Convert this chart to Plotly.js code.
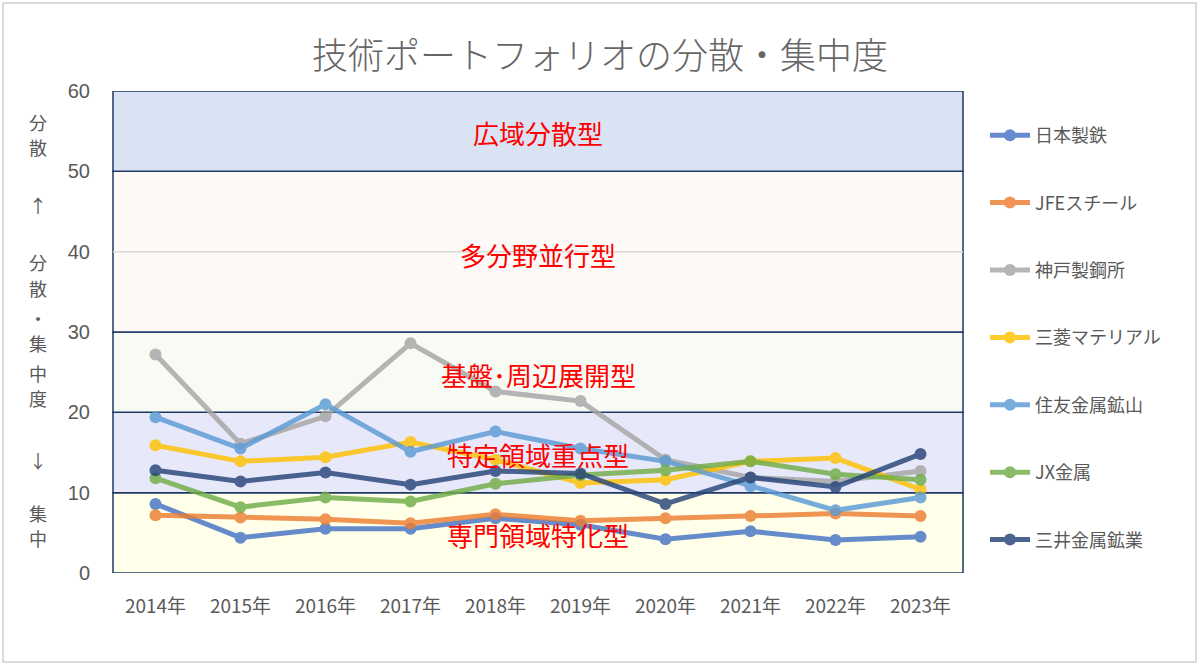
<!DOCTYPE html>
<html><head><meta charset="utf-8">
<script src="https://cdn.plot.ly/plotly-3.0.1.min.js"></script>
<style>html,body{margin:0;padding:0;background:#fff;}#c{width:1200px;height:665px;}</style>
</head><body><div id="c"></div>
<script>
const years = ["2014年","2015年","2016年","2017年","2018年","2019年","2020年","2021年","2022年","2023年"];
const seriesNames = ["日本製鉄","JFEスチール","神戸製鋼所","三菱マテリアル","住友金属鉱山","JX金属","三井金属鉱業"];
const nipponSteel = [8.6, 4.4, 5.5, 5.5, 6.8, 6.0, 4.2, 5.2, 4.1, 4.5];
const jfeSteel    = [7.2, 6.9, 6.7, 6.2, 7.3, 6.5, 6.8, 7.1, 7.4, 7.1];
const kobeSteel   = [27.2, 16.1, 19.5, 28.6, 22.6, 21.4, 14.1, 11.9, 11.4, 12.7];
const mitsubishiM = [15.9, 13.9, 14.4, 16.3, 14.1, 11.2, 11.6, 13.9, 14.3, 10.4];
const sumitomoMM  = [19.4, 15.5, 21.0, 15.1, 17.6, 15.5, 13.9, 10.8, 7.8, 9.4];
const jxMetals    = [11.8, 8.2, 9.4, 8.9, 11.1, 12.2, 12.8, 13.9, 12.3, 11.6];
const mitsuiMM    = [12.8, 11.4, 12.5, 11.0, 12.7, 12.4, 8.6, 11.9, 10.7, 14.8];
const allSeries = [nipponSteel, jfeSteel, kobeSteel, mitsubishiM, sumitomoMM, jxMetals, mitsuiMM];

const bandNames = ["専門領域特化型","特定領域重点型","基盤･周辺展開型","多分野並行型","広域分散型"];
const bandLow  = [0, 10, 20, 30, 50];
const bandHigh = [10, 20, 30, 50, 60];
const yTitleChars = ["分","散","↑","分","散","・","集","中","度","↓","集","中"];

const colors = ["#4472C4","#ED7D31","#A5A5A5","#FFC000","#5B9BD5","#70AD47","#264478"];
const bandFills = ["#FFFFEA","#E8E8FB","#F8FAF4","#FDF9F6","#DAE3F3"];
const bandLabelY = [4.8, 14.7, 24.7, 39.6, 54.8];

const traces = allSeries.map((vals, i) => ({
  type: "scatter", mode: "lines+markers",
  x: years, y: vals, name: seriesNames[i],
  legendgroup: "g" + i,
  line: {color: colors[i], width: 5},
  marker: {color: colors[i], size: 12},
  opacity: 0.82
}));

const shapes = [];
bandLow.forEach((lo, i) => {
  shapes.push({type: "rect", xref: "paper", yref: "y", x0: 0, x1: 1, y0: lo, y1: bandHigh[i],
    fillcolor: bandFills[i], line: {color: "#1F3864", width: 1.5}, layer: "below"});
});
shapes.push({type: "line", xref: "paper", yref: "y", x0: 0, x1: 1, y0: 40, y1: 40,
  line: {color: "#D9D9D9", width: 1.5}, layer: "below"});
shapes.push({type: "rect", xref: "paper", yref: "paper", x0: -0.1294, x1: 1.2741, y0: -0.1846, y1: 1.1826,
  line: {color: "#D0D0D0", width: 1.5}, fillcolor: "rgba(0,0,0,0)", layer: "below"});

const annotations = bandNames.map((t, i) => ({
  text: t, xref: "paper", yref: "y", x: 0.5, y: bandLabelY[i], showarrow: false,
  font: {color: "#FF0000", size: 26, family: "Noto Sans CJK JP"}
}));
const yTitlePx = [122,147,205,262,288,318,343,373,398,460,513,538];
yTitleChars.forEach((ch, i) => {
  annotations.push({text: ch, xref: "paper", yref: "paper", x: (38 - 113) / 850,
    y: (573 - yTitlePx[i]) / 482, showarrow: false, xanchor: "center", yanchor: "middle",
    font: {color: "#595959", size: 18, family: "Noto Sans CJK JP"}});
});

const layout = {
  width: 1200, height: 665,
  margin: {l: 113, r: 237, t: 91, b: 92},
  paper_bgcolor: "#FFFFFF", plot_bgcolor: "#FFFFFF",
  title: {text: "技術ポートフォリオの分散・集中度", x: 0.5, xref: "container", xanchor: "center",
    y: 1 - 56 / 665, yref: "container", yanchor: "middle",
    font: {size: 36, color: "#666666", family: "Noto Sans CJK JP", weight: 300}},
  xaxis: {type: "category", range: [-0.5, 9.5], showgrid: false, zeroline: false,
    showline: false, ticks: "", ticklabelstandoff: 20,
    tickfont: {size: 19, color: "#595959", family: "Liberation Sans Narrow, Noto Sans CJK JP"}},
  yaxis: {range: [0, 60], dtick: 10, showgrid: false, zeroline: false, showline: false,
    ticks: "", ticklabelstandoff: 22,
    tickfont: {size: 20, color: "#595959", family: "Liberation Sans, Noto Sans CJK JP"}},
  showlegend: true,
  legend: {x: (985 - 113) / 850, xanchor: "left", y: (573 - 117) / 482, yanchor: "top",
    traceorder: "grouped", tracegroupgap: 41, itemwidth: 40,
    font: {size: 18, color: "#595959", family: "Noto Sans CJK JP"}, bgcolor: "rgba(0,0,0,0)"},
  shapes: shapes,
  annotations: annotations
};

Plotly.newPlot("c", traces, layout, {displayModeBar: false, staticPlot: true});
</script>
</body></html>
